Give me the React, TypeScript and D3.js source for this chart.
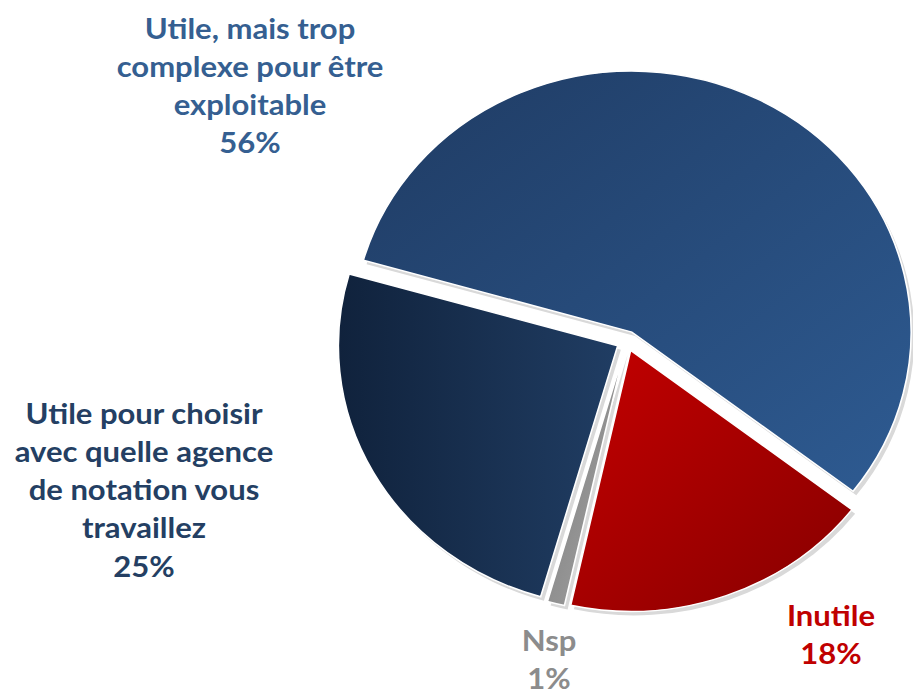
import React from 'react';
import { pie, arc, PieArcDatum } from 'd3';

const labels = ['Utile, mais trop complexe pour être exploitable', 'Inutile', 'Nsp', 'Utile pour choisir avec quelle agence de notation vous travaillez'];
const values = [56, 18, 1, 25];
const gradients = [
  ['#1f3b63', '#2e5b92'],
  ['#c40000', '#860000'],
  ['#7a7a7a', '#a6a6a6'],
  ['#10223c', '#203d63'],
];

// label text blocks, one array of lines per slice
const labelLines = [
  ['Utile, mais trop', 'complexe pour être', 'exploitable', '56%'],
  ['Inutile', '18%'],
  ['Nsp', '1%'],
  ['Utile pour choisir', 'avec quelle agence', 'de notation vous', 'travaillez', '25%'],
];
const labelPos = [
  { x: 250, y: 27, color: '#355f91' },
  { x: 831, y: 614, color: '#c00000' },
  { x: 549, y: 639, color: '#8c8c8c' },
  { x: 144, y: 412, color: '#243f63' },
];

const W = 913;
const H = 689;
const cx = 627;
const cy = 341;
const radius = 261;
const stretchX = 1.07; // the original picture is a bit wider than tall
const explode = 10;

export default function App() {
  const start = (-74 * Math.PI) / 180;
  const arcs = pie<number>()
    .sort(null)
    .startAngle(start)
    .endAngle(start + 2 * Math.PI)(values);
  const arcGen = arc<PieArcDatum<number>>().innerRadius(0).outerRadius(radius);

  return (
    <svg width={W} height={H} style={{ position: 'absolute', left: 0, top: 0, background: '#fff' }}>
      <defs>
        {gradients.map((g, i) => (
          <linearGradient key={i} id={'g' + i} x1="0" y1="0" x2="1" y2={i === 3 ? '0' : '1'}>
            <stop offset="0%" stopColor={g[0]} />
            <stop offset="100%" stopColor={g[1]} />
          </linearGradient>
        ))}
      </defs>
      <g transform={`translate(${cx},${cy}) scale(${stretchX},1)`}>
        {arcs.map((d, i) => {
          const mid = (d.startAngle + d.endAngle) / 2;
          const dx = Math.sin(mid) * explode;
          const dy = -Math.cos(mid) * explode;
          return (
            <g key={i} transform={`translate(${dx},${dy})`}>
              <path d={arcGen(d) || ''} fill="#d9d9d9" transform="translate(3,4)" />
              <path d={arcGen(d) || ''} fill={`url(#g${i})`} stroke="#fff" strokeWidth={1.5} />
            </g>
          );
        })}
      </g>
      {labelLines.map((lines, i) => (
        <text
          key={i}
          transform={`translate(${labelPos[i].x},0) scale(${stretchX},1)`}
          textAnchor="middle"
          fontFamily="Lato, 'Open Sans', sans-serif"
          fontWeight="bold"
          fontSize={29}
          fill={labelPos[i].color}
        >
          {lines.map((l, j) => (
            <tspan key={j} x={0} y={labelPos[i].y + j * 38.3} dominantBaseline="central">
              {l}
            </tspan>
          ))}
        </text>
      ))}
    </svg>
  );
}
